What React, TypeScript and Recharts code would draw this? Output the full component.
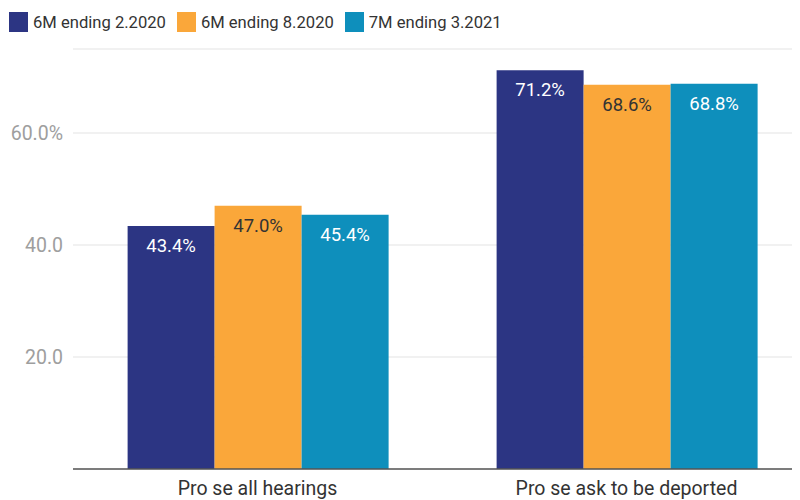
import React from 'react';
import { BarChart, Bar, XAxis, YAxis, CartesianGrid, LabelList } from 'recharts';

const categories = ['Pro se all hearings', 'Pro se ask to be deported'];
const seriesNames = ['6M ending 2.2020', '6M ending 8.2020', '7M ending 3.2021'];
const seriesColors = ['#2c3583', '#faa73a', '#0e8fbc'];
const labelColors = ['#ffffff', '#333333', '#ffffff'];
const period1 = [43.4, 71.2];
const period2 = [47.0, 68.6];
const period3 = [45.4, 68.8];
const yTicks = [0, 20, 40, 60];
const yTickLabels = ['', '20.0', '40.0', '60.0%'];

const data = categories.map((name, i) => ({
    name,
    s0: period1[i],
    s1: period2[i],
    s2: period3[i],
}));

const FONT = 'Roboto, sans-serif';

const Legend = () => (
    <div style={{ position: 'absolute', left: 9, top: 12, display: 'flex', alignItems: 'center', fontFamily: FONT, fontSize: 16.6, color: '#333' }}>
        {seriesNames.map((n, i) => (
            <div key={n} style={{ display: 'flex', alignItems: 'center', marginRight: 11 }}>
                <div style={{ width: 19, height: 20, backgroundColor: seriesColors[i], marginRight: 5 }} />
                <span>{n}</span>
            </div>
        ))}
    </div>
);

export default function App() {
    return (
        <div style={{ position: 'relative', margin: '-8px -8px 0 -8px', width: 800, height: 500, overflow: 'hidden', background: '#fff' }}>
            <BarChart
                width={811}
                height={500}
                data={data}
                margin={{ top: 49, right: 0, left: 0, bottom: 0 }}
                barCategoryGap="14.8%"
                barGap={0}
            >
                <CartesianGrid horizontal vertical={false} stroke="#e3e3e3" />
                <YAxis
                    width={73}
                    domain={[0, 75]}
                    ticks={yTicks}
                    tickFormatter={(v: number) => yTickLabels[yTicks.indexOf(v)] ?? ''}
                    axisLine={false}
                    tickLine={false}
                    tickSize={0}
                    tickMargin={10}
                    tick={{ fill: '#9e9e9e', fontSize: 19.5, fontFamily: FONT }}
                />
                <XAxis
                    dataKey="name"
                    height={31}
                    tickLine={false}
                    axisLine={{ stroke: '#555', strokeWidth: 1.5 }}
                    tick={{ fill: '#333', fontSize: 19.5, fontFamily: FONT }}
                    tickSize={0}
                    tickMargin={12}
                />
                {['s0', 's1', 's2'].map((k, i) => (
                    <Bar key={k} dataKey={k} fill={seriesColors[i]} isAnimationActive={false}>
                        <LabelList
                            dataKey={k}
                            position="insideTop"
                            offset={13}
                            formatter={(v: any) => `${Number(v).toFixed(1)}%`}
                            style={{ fill: labelColors[i], fontSize: 18.5, fontFamily: FONT }}
                        />
                    </Bar>
                ))}
            </BarChart>
            <Legend />
        </div>
    );
}
